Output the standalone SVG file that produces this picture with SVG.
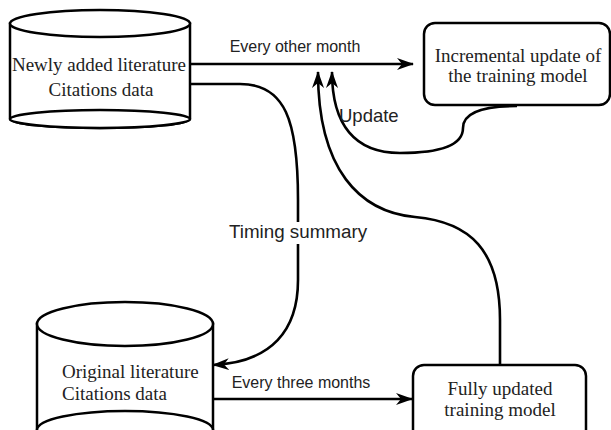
<svg xmlns="http://www.w3.org/2000/svg" width="611" height="430" viewBox="0 0 611 430">
<style>
.shape{fill:#fff;stroke:#000;stroke-width:2.5}
.edge{fill:none;stroke:#000;stroke-width:2.6}
.serif{font-family:"Liberation Serif","Times New Roman",serif;font-size:19px;fill:#222}
.sans{font-family:"Liberation Sans",Arial,sans-serif;fill:#222}
</style>
<defs>
<marker id="arr" viewBox="0 0 17 12" refX="16" refY="6" markerWidth="17" markerHeight="12" orient="auto" markerUnits="userSpaceOnUse">
<path d="M0,0 L17,6 L0,12 L5,6 Z" fill="#000"/>
</marker>
</defs>
<rect width="611" height="430" fill="#fff"/>
<g id="connectors">
<path class="edge" d="M190,64 L413,64" marker-end="url(#arr)"/>
<path class="edge" d="M190,84 L240,84 C285,84 298,120 298,200 L298,280 C298,330 272,362 213,365" marker-end="url(#arr)"/>
<path class="edge" d="M213,399 L412,399" marker-end="url(#arr)"/>
<path class="edge" d="M517,106 C485,106 463,112 463,128 C463,145 440,153 400,153 C355,153 332,125 332,72" marker-end="url(#arr)"/>
<path class="edge" d="M500,364 L500,320 C500,250 470,222 415,217 C360,212 318,170 318,72" marker-end="url(#arr)"/>
<text class="sans" font-size="16" x="295" y="52" text-anchor="middle">Every other month</text>
<text class="sans" font-size="18.5" x="339" y="122">Update</text>
<rect x="226" y="222" width="144" height="22" fill="#fff"/>
<text class="sans" font-size="18.8" x="298" y="238" text-anchor="middle">Timing summary</text>
<text class="sans" font-size="16" x="301" y="388" text-anchor="middle">Every three months</text>
</g>
<g id="new-literature">
<path class="shape" d="M10,23.5 L10,119 A90,9 0 0 0 190,119 L190,23.5 Z"/>
<ellipse class="shape" cx="100" cy="119" rx="90" ry="9"/>
<ellipse class="shape" cx="100" cy="23.5" rx="90" ry="13.5"/>
<text class="serif" x="99" y="71" text-anchor="middle">Newly added literature</text>
<text class="serif" x="101" y="96" text-anchor="middle">Citations data</text>
</g>
<g id="incremental-update">
<rect class="shape" x="424" y="23" width="186" height="82" rx="11"/>
<text class="serif" x="518" y="62" text-anchor="middle">Incremental update of</text>
<text class="serif" x="518" y="82" text-anchor="middle">the training model</text>
</g>
<g id="original-literature">
<path class="shape" d="M37,324 L37,430 A88,19 0 0 0 213,430 L213,324 Z"/>
<ellipse class="shape" cx="125" cy="430" rx="88" ry="19"/>
<ellipse class="shape" cx="125" cy="324" rx="88" ry="22"/>
<text class="serif" x="62" y="378">Original literature</text>
<text class="serif" x="62" y="400">Citations data</text>
</g>
<g id="full-update">
<rect class="shape" x="413" y="365" width="173" height="80" rx="11"/>
<text class="serif" x="500" y="395" text-anchor="middle">Fully updated</text>
<text class="serif" x="500" y="416" text-anchor="middle">training model</text>
</g>
</svg>
